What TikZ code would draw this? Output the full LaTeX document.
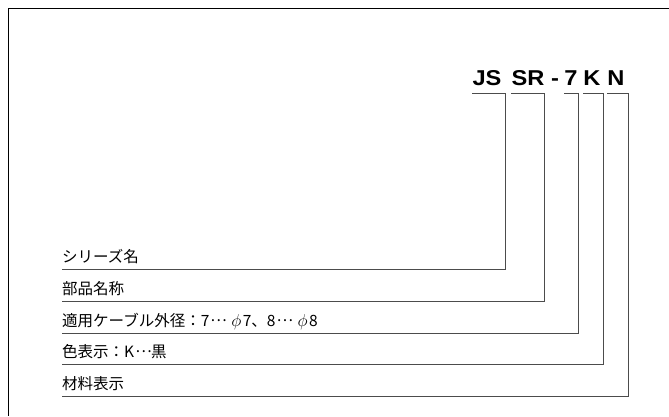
\documentclass[tikz,border=0pt]{standalone}
\usepackage{fontspec}
\setmainfont{Noto Sans CJK JP}
\newfontfamily\codefont{Liberation Sans Bold}[FakeStretch=1.1]
\newcommand{\fwdots}{\hspace{1.5pt}\makebox[1em]{\raisebox{0.3em}{…}}}
\newcommand{\dia}{\hspace{5pt}{\fontsize{17}{18}\selectfont$\phi$}\hspace{1.5pt}}
\usepackage{tikz}
\usetikzlibrary{calc,positioning}

\tikzset{
    code/.style={inner sep=0pt,anchor=base,font=\codefont\fontsize{21.5}{24}\selectfont},
    lbl/.style={inner sep=0pt,anchor=base west,font=\fontsize{15.5}{18}\selectfont},
    lead/.style={black!70,line width=0.8pt}
}

\begin{document}
\begin{tikzpicture}[x=1pt,y=-1pt]
        \useasboundingbox (0,0) rectangle (669,416);
        \draw [line width=0.8pt] (669,8) -- (8,8) -- (8,416);
        % code letters
        \node[code] (js) at (487,85) {JS};
        \node[code] (sr) at (528,85) {SR};
        \node[code] (dash) at (555,85) {-};
        \node[code] (seven) at (571,85) {7};
        \node[code] (k) at (592,85) {K};
        \node[code] (n) at (616,85) {N};
        % labels
        \node[lbl] (series) at (62,262) {シリーズ名};
        \node[lbl] (part) at (62,294) {部品名称};
        \node[lbl] (cable) at (62,326) {適用ケーブル外径：7\fwdots\dia 7、8\fwdots\dia 8};
        \node[lbl] (color) at (62,357) {色表示：K\fwdots 黒};
        \node[lbl] (mat) at (62,389) {材料表示};
        % corners
        \coordinate (c1) at (505,269);
        \coordinate (c2) at (544,301);
        \coordinate (c3) at (578,333);
        \coordinate (c4) at (603,364);
        \coordinate (c5) at (628,396);
        \draw[lead] (js.base west |- 0,93) -| (c1) -- (series.west |- c1);
        \draw[lead] (sr.base west |- 0,93) -| (c2) -- (part.west |- c2);
        \draw[lead] (seven.base west |- 0,93) -| (c3) -- (cable.west |- c3);
        \draw[lead] (k.base west |- 0,93) -| (c4) -- (color.west |- c4);
        \draw[lead] (n.base west |- 0,93) -| (c5) -- (mat.west |- c5);
    \end{tikzpicture}
\end{document}
